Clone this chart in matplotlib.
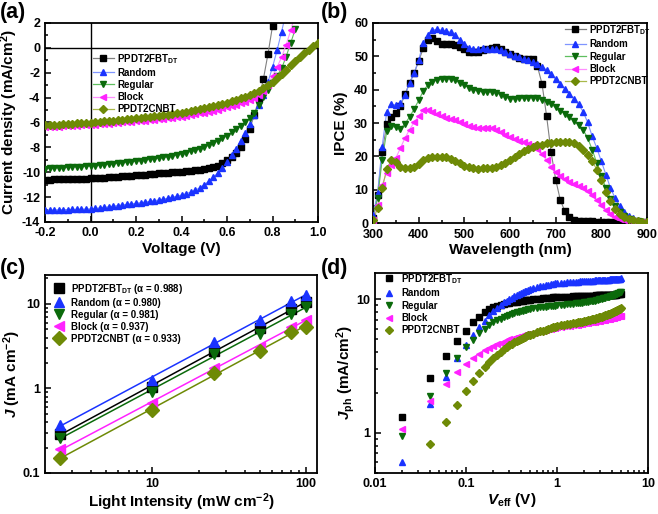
import numpy as np
import matplotlib
matplotlib.use('Agg')
import matplotlib.pyplot as plt
from matplotlib.ticker import MultipleLocator, LogLocator, NullFormatter, FixedLocator, FixedFormatter

plt.rcParams['font.family'] = ['Liberation Sans', 'DejaVu Sans']
plt.rcParams['font.weight'] = 'bold'
plt.rcParams['axes.labelweight'] = 'bold'
plt.rcParams['mathtext.fontset'] = 'custom'
plt.rcParams['mathtext.rm'] = 'Liberation Sans:bold'
plt.rcParams['mathtext.bf'] = 'Liberation Sans:bold'
plt.rcParams['mathtext.it'] = 'Liberation Sans:bold:italic'
plt.rcParams['axes.linewidth'] = 1.3

# ── SERIES NAMES / STYLES ───────────────────────────────────────────────────
names = ['PPDT2FBT$_{\\mathregular{DT}}$', 'Random', 'Regular', 'Block', 'PPDT2CNBT']
colors = ['#000000', '#1a33ff', '#0b6a0b', '#ff22ff', '#6e8a06']
line_colors = ['#808080', '#7f95ff', '#5fbf5f', '#ff8fff', '#a9b94a']
markers = ['s', '^', 'v', '<', 'D']

# ── (a) J-V DATA ────────────────────────────────────────────────────────────
v_step = np.round(np.arange(-0.2, 1.0001, 0.02), 2)

jv_fbt = [-10.60, -10.59, -10.58, -10.57, -10.56, -10.55, -10.54, -10.53, -10.52, -10.51,
          -10.50, -10.48, -10.46, -10.44, -10.42, -10.40, -10.37, -10.34, -10.31, -10.28,
          -10.25, -10.22, -10.19, -10.16, -10.13, -10.10, -10.07, -10.04, -10.01, -9.98,
          -9.95, -9.92, -9.89, -9.85, -9.80, -9.74, -9.67, -9.58, -9.46, -9.28,
          -9.05, -8.80, -8.45, -8.00, -7.35, -6.50, -5.40, -4.10, -2.50, -0.50,
          1.75]
jv_random = [-13.05, -13.04, -13.03, -13.02, -13.01, -13.00, -12.99, -12.98, -12.97, -12.96,
             -12.95, -12.91, -12.87, -12.83, -12.78, -12.73, -12.68, -12.63, -12.58, -12.54,
             -12.50, -12.45, -12.40, -12.35, -12.29, -12.23, -12.16, -12.09, -12.01, -11.92,
             -11.83, -11.72, -11.60, -11.45, -11.25, -11.00, -10.72, -10.40, -10.05, -9.62,
             -9.15, -8.65, -8.10, -7.50, -6.85, -6.15, -5.40, -4.60, -3.80, -2.75,
             -1.55, -0.20, 1.30, 2.90]
jv_regular = [-9.70, -9.68, -9.66, -9.64, -9.62, -9.60, -9.58, -9.56, -9.54, -9.52,
              -9.50, -9.47, -9.43, -9.39, -9.35, -9.31, -9.27, -9.23, -9.19, -9.15,
              -9.11, -9.06, -9.02, -8.97, -8.92, -8.87, -8.81, -8.75, -8.68, -8.60,
              -8.50, -8.42, -8.33, -8.23, -8.12, -7.98, -7.83, -7.66, -7.47, -7.27,
              -7.05, -6.80, -6.55, -6.28, -5.98, -5.65, -5.20, -4.60, -3.95, -3.35,
              -2.80, -2.25, -1.65, -0.70, 0.40, 1.50]
jv_block = [-6.40, -6.38, -6.36, -6.34, -6.32, -6.30, -6.28, -6.26, -6.24, -6.22,
            -6.20, -6.17, -6.14, -6.11, -6.09, -6.06, -6.03, -6.00, -5.97, -5.94,
            -5.91, -5.88, -5.85, -5.81, -5.78, -5.74, -5.70, -5.66, -5.62, -5.58,
            -5.53, -5.47, -5.41, -5.34, -5.27, -5.20, -5.12, -5.04, -4.96, -4.87,
            -4.78, -4.68, -4.57, -4.45, -4.32, -4.18, -4.00, -3.78, -3.45, -2.95,
            -2.25, -1.55, -0.75, 0.25, 1.40, 2.70]
jv_cnbt = [-6.23, -6.21, -6.19, -6.17, -6.15, -6.12, -6.10, -6.08, -6.05, -6.03,
           -6.01, -5.98, -5.95, -5.92, -5.88, -5.85, -5.82, -5.78, -5.74, -5.70,
           -5.66, -5.62, -5.58, -5.54, -5.50, -5.46, -5.41, -5.36, -5.31, -5.26,
           -5.20, -5.14, -5.08, -5.01, -4.94, -4.86, -4.78, -4.70, -4.61, -4.51,
           -4.40, -4.29, -4.17, -4.04, -3.92, -3.78, -3.62, -3.45, -3.24, -3.00,
           -2.72, -2.42, -2.10, -1.75, -1.40, -1.03, -0.72, -0.42, -0.15, 0.12,
           0.37]

# ── (b) IPCE DATA (300-900 nm, 10 nm) ──────────────────────────────────────
wl = np.arange(300, 901, 10)

ipce_fbt = [1.5, 8.4, 21.2, 29.6, 31.9, 33.1, 35.1, 38.6, 42.1, 44.9,
            48.6, 52.4, 54.9, 55.4, 54.6, 53.7, 53.6, 53.7, 53.4, 52.9,
            52.1, 51.4, 51.2, 51.4, 51.9, 52.3, 52.6, 52.7, 52.2, 51.4,
            50.6, 50.0, 49.5, 49.2, 49.3, 49.2, 47.0, 41.8, 32.2, 21.2,
            13.0, 7.0, 3.5, 1.8, 1.0, 0.7, 0.6, 0.5, 0.5, 0.4,
            0.4, 0.3, 0.3, 0.2, 0.2, 0.2, 0.1, 0.1, 0.1, 0.1,
            0.1]
ipce_random = [2.5, 8.9, 22.9, 33.4, 35.6, 35.4, 35.9, 38.4, 41.9, 44.9,
               48.9, 54.1, 56.4, 57.9, 58.1, 57.8, 57.6, 57.2, 56.4, 54.9,
               53.6, 52.6, 52.1, 52.1, 52.4, 52.2, 52.3, 52.3, 51.8, 51.2,
               50.6, 50.2, 49.8, 49.3, 49.0, 48.3, 47.8, 46.9, 45.9, 44.6,
               43.1, 41.7, 40.2, 38.7, 37.2, 35.6, 33.4, 30.2, 26.0, 22.5,
               18.5, 14.5, 10.5, 7.5, 5.2, 3.4, 2.2, 1.4, 0.9, 0.6,
               0.4]
ipce_regular = [1.0, 7.6, 18.9, 27.5, 29.0, 28.7, 28.3, 29.8, 31.8, 34.2,
                36.8, 39.6, 41.4, 42.4, 42.9, 43.2, 43.3, 43.2, 42.8, 42.0,
                41.3, 40.6, 40.0, 39.6, 39.4, 39.3, 39.3, 39.1, 38.5, 37.7,
                37.3, 37.3, 37.4, 37.5, 37.6, 37.6, 37.5, 36.9, 36.3, 35.6,
                34.7, 33.7, 32.8, 31.7, 30.5, 29.5, 28.0, 25.5, 22.0, 18.0,
                14.0, 10.5, 7.3, 5.0, 3.2, 2.0, 1.2, 0.7, 0.5, 0.3,
                0.2]
ipce_block = [1.0, 5.5, 11.5, 15.0, 17.5, 19.5, 22.5, 25.5, 28.0, 30.2,
              32.0, 34.0, 34.0, 33.3, 32.6, 32.0, 31.6, 31.2, 30.8, 30.2,
              29.6, 29.1, 28.8, 28.6, 28.6, 28.5, 28.4, 28.0, 27.3, 26.5,
              25.8, 25.2, 24.7, 24.2, 23.6, 23.5, 22.3, 20.8, 18.8, 16.8,
              15.3, 14.0, 13.1, 12.4, 11.8, 11.1, 10.4, 9.5, 8.3, 6.9,
              5.4, 4.0, 2.8, 1.9, 1.3, 1.0, 0.8, 0.6, 0.4, 0.3,
              0.2]
ipce_cnbt = [0.8, 4.4, 10.4, 16.2, 18.9, 18.4, 16.9, 16.4, 16.6, 16.9,
             17.7, 18.9, 19.4, 19.7, 19.9, 19.9, 19.7, 19.2, 18.6, 17.9,
             17.2, 16.7, 16.4, 16.3, 16.4, 16.5, 16.6, 16.8, 17.3, 18.0,
             18.9, 19.9, 20.8, 21.6, 22.3, 22.9, 23.3, 23.5, 23.9, 24.1,
             24.2, 24.2, 24.2, 24.2, 23.9, 23.2, 21.9, 20.5, 18.6, 16.0,
             12.8, 9.3, 6.5, 4.3, 2.7, 1.8, 1.2, 0.8, 0.5, 0.3,
             0.2]

# ── (c) LIGHT INTENSITY DATA ────────────────────────────────────────────────
intensity = [2.5, 10, 25, 50, 80, 100]
jsc_fbt = [0.29, 1.03, 2.80, 5.20, 8.70, 10.6]
jsc_random = [0.37, 1.27, 3.50, 6.40, 10.7, 12.8]
jsc_regular = [0.26, 0.92, 2.55, 4.40, 7.60, 9.10]
jsc_block = [0.19, 0.67, 1.74, 3.10, 5.40, 6.50]
jsc_cnbt = [0.15, 0.55, 1.52, 2.74, 4.70, 5.30]
alphas = ['0.988', '0.980', '0.981', '0.937', '0.933']

# ── (d) PHOTOCURRENT DATA ───────────────────────────────────────────────────
veff = ([0.02, 0.04, 0.06, 0.08, 0.10, 0.12, 0.14, 0.16, 0.18, 0.20,
         0.22, 0.24, 0.26, 0.28, 0.30, 0.32, 0.34, 0.36, 0.38, 0.40,
         0.42, 0.44, 0.46, 0.48, 0.50]
        + [0.55, 0.60, 0.65, 0.70, 0.75, 0.80, 0.85, 0.90, 0.95, 1.00]
        + list(np.round(np.arange(1.1, 5.01, 0.1), 1)))

jph_fbt = [1.31, 2.57, 3.78, 4.89, 5.80, 6.70, 7.40, 7.95, 8.40, 8.75,
           8.95, 9.10, 9.22, 9.32, 9.40, 9.47, 9.54, 9.60, 9.66, 9.71,
           9.76, 9.80, 9.84, 9.88, 9.91,
           9.98, 10.05, 10.11, 10.16, 10.20, 10.24, 10.27, 10.30, 10.33, 10.35,
           10.38, 10.41, 10.43, 10.45, 10.47, 10.49, 10.51, 10.53, 10.55, 10.57,
           10.59, 10.61, 10.62, 10.63, 10.64, 10.65, 10.66, 10.67, 10.68, 10.69,
           10.70, 10.71, 10.72, 10.73, 10.74, 10.75, 10.76, 10.77, 10.78, 10.79,
           10.80, 10.81, 10.82, 10.83, 10.84, 10.85, 10.86, 10.87, 10.88, 10.90]
jph_random = [0.60, 1.63, 2.62, 3.60, 4.50, 5.35, 6.15, 6.85, 7.55, 8.15,
              8.65, 9.10, 9.45, 9.75, 10.00, 10.25, 10.50, 10.72, 10.92, 11.10,
              11.27, 11.43, 11.58, 11.72, 11.85,
              12.10, 12.30, 12.48, 12.62, 12.75, 12.86, 12.96, 13.05, 13.12, 13.18,
              13.25, 13.30, 13.35, 13.40, 13.44, 13.48, 13.52, 13.56, 13.59, 13.62,
              13.65, 13.68, 13.71, 13.74, 13.77, 13.80, 13.82, 13.84, 13.86, 13.88,
              13.90, 13.92, 13.94, 13.96, 13.98, 14.00, 14.02, 14.04, 14.06, 14.08,
              14.10, 14.12, 14.14, 14.16, 14.18, 14.20, 14.22, 14.24, 14.26, 14.28]
jph_regular = [0.94, 1.90, 2.80, 3.60, 4.36, 4.97, 5.57, 6.00, 6.36, 6.70,
               6.95, 7.15, 7.32, 7.48, 7.62, 7.74, 7.85, 7.95, 8.04, 8.12,
               8.19, 8.26, 8.32, 8.38, 8.43,
               8.52, 8.60, 8.67, 8.73, 8.79, 8.84, 8.88, 8.92, 8.96, 9.00,
               9.06, 9.12, 9.17, 9.22, 9.27, 9.31, 9.35, 9.39, 9.43, 9.47,
               9.52, 9.57, 9.62, 9.67, 9.72, 9.77, 9.83, 9.89, 9.95, 10.01,
               10.07, 10.13, 10.19, 10.25, 10.31, 10.37, 10.43, 10.49, 10.55, 10.61,
               10.67, 10.73, 10.80, 10.87, 10.94, 11.01, 11.08, 11.15, 11.22, 11.30]
jph_block = [1.06, 1.72, 2.30, 2.84, 3.27, 3.63, 3.91, 4.14, 4.32, 4.48,
             4.61, 4.72, 4.82, 4.91, 5.00, 5.07, 5.14, 5.20, 5.25, 5.30,
             5.35, 5.40, 5.44, 5.48, 5.52,
             5.60, 5.68, 5.75, 5.82, 5.88, 5.94, 6.00, 6.05, 6.10, 6.15,
             6.20, 6.25, 6.30, 6.34, 6.38, 6.42, 6.46, 6.50, 6.54, 6.58,
             6.62, 6.66, 6.70, 6.73, 6.76, 6.79, 6.82, 6.85, 6.88, 6.91,
             6.94, 6.97, 7.00, 7.03, 7.06, 7.09, 7.12, 7.15, 7.18, 7.21,
             7.24, 7.27, 7.30, 7.33, 7.36, 7.39, 7.42, 7.45, 7.48, 7.50]
jph_cnbt = [0.40, 0.82, 1.20, 1.61, 2.05, 2.42, 2.79, 3.09, 3.39, 3.63,
            3.85, 4.05, 4.22, 4.38, 4.52, 4.65, 4.77, 4.88, 4.98, 5.07,
            5.15, 5.22, 5.29, 5.35, 5.40,
            5.52, 5.63, 5.73, 5.82, 5.91, 6.00, 6.08, 6.16, 6.23, 6.30,
            6.37, 6.43, 6.49, 6.55, 6.60, 6.65, 6.70, 6.75, 6.80, 6.85,
            6.90, 6.95, 7.00, 7.05, 7.10, 7.15, 7.20, 7.25, 7.30, 7.35,
            7.40, 7.45, 7.50, 7.56, 7.62, 7.68, 7.74, 7.80, 7.86, 7.92,
            7.98, 8.04, 8.10, 8.16, 8.22, 8.28, 8.34, 8.40, 8.48, 8.56]

jv_all = [jv_fbt, jv_random, jv_regular, jv_block, jv_cnbt]
ipce_all = [ipce_fbt, ipce_random, ipce_regular, ipce_block, ipce_cnbt]
jsc_all = [jsc_fbt, jsc_random, jsc_regular, jsc_block, jsc_cnbt]
jph_all = [jph_fbt, jph_random, jph_regular, jph_block, jph_cnbt]

# ── FIGURE ──────────────────────────────────────────────────────────────────
fig = plt.figure(figsize=(6.58, 5.14), dpi=100)
ax_a = fig.add_axes([0.0684, 0.5681, 0.4149, 0.3872])
ax_b = fig.add_axes([0.5669, 0.5661, 0.4164, 0.3892])
ax_c = fig.add_axes([0.0684, 0.0798, 0.4134, 0.3852])
ax_d = fig.add_axes([0.5699, 0.0798, 0.4149, 0.3891])

tick_fs = 9
label_fs = 11
leg_fs = 7

for ax in (ax_a, ax_b, ax_c, ax_d):
    ax.tick_params(which='both', direction='in', labelsize=tick_fs, width=1.1)
    ax.tick_params(which='major', length=4)
    ax.tick_params(which='minor', length=2)

# (a)
for j, c, lc, m, n in zip(jv_all, colors, line_colors, markers, names):
    ax_a.plot(v_step[:len(j)], j, color=lc, lw=0.8, zorder=2)
    ax_a.plot(v_step[:len(j)], j, ls='none', marker=m, ms=4.4, color=c,
              mec=c, zorder=3)
    ax_a.plot([], [], color=lc, lw=0.9, marker=m, ms=4.2, mfc=c, mec=c, label=n)
ax_a.axhline(0, color='k', lw=1.0, zorder=1)
ax_a.axvline(0, color='k', lw=1.0, zorder=1)
ax_a.set_xlim(-0.2, 1.0)
ax_a.set_ylim(-14, 2)
ax_a.xaxis.set_minor_locator(MultipleLocator(0.1))
ax_a.yaxis.set_minor_locator(MultipleLocator(1))
ax_a.set_xticks(np.round(np.arange(-0.2, 1.01, 0.2), 1))
ax_a.set_xticklabels(['-0.2', '0.0', '0.2', '0.4', '0.6', '0.8', '1.0'], fontweight='bold')
ax_a.set_yticks(np.arange(-14, 3, 2))
ax_a.set_yticklabels([str(t) for t in range(-14, 3, 2)], fontweight='bold')
ax_a.set_xlabel('Voltage (V)', fontsize=label_fs, fontweight='bold', labelpad=2)
ax_a.set_ylabel('Current density (mA/cm$^2$)', fontsize=label_fs, fontweight='bold')
ax_a.yaxis.set_label_coords(-0.09, 0.5)
ax_a.legend(loc='upper left', bbox_to_anchor=(0.16, 0.875), frameon=False,
            fontsize=leg_fs, handlelength=2.2, handletextpad=0.3, labelspacing=0.22,
            borderaxespad=0)

# (b)
for y, c, lc, m, n in zip(ipce_all, colors, line_colors, markers, names):
    ax_b.plot(wl, y, color=lc, lw=0.8, zorder=2)
    ax_b.plot(wl, y, ls='none', marker=m, ms=4.4, color=c, mec=c, zorder=3)
    ax_b.plot([], [], color=lc, lw=0.9, marker=m, ms=4.2, mfc=c, mec=c, label=n)
ax_b.set_xlim(300, 900)
ax_b.set_ylim(0, 60)
ax_b.xaxis.set_minor_locator(MultipleLocator(50))
ax_b.yaxis.set_minor_locator(MultipleLocator(5))
ax_b.set_xticks(np.arange(300, 901, 100))
ax_b.set_xticklabels([str(t) for t in range(300, 901, 100)], fontweight='bold')
ax_b.set_yticks(np.arange(0, 61, 10))
ax_b.set_yticklabels([str(t) for t in range(0, 61, 10)], fontweight='bold')
ax_b.tick_params(axis='x', pad=4.5)
ax_b.set_xlabel('Wavelength (nm)', fontsize=label_fs, fontweight='bold', labelpad=1)
ax_b.set_ylabel('IPCE (%)', fontsize=label_fs, fontweight='bold')
ax_b.yaxis.set_label_coords(-0.09, 0.5)
ax_b.legend(loc='upper left', bbox_to_anchor=(0.685, 1.02), frameon=False,
            fontsize=leg_fs, handlelength=2.2, handletextpad=0.3, labelspacing=0.25,
            borderaxespad=0)

# (c)
x_fit = np.array([intensity[0], intensity[-1]])
for y, c, m, n, a in zip(jsc_all, colors, markers, names, alphas):
    k, b0 = np.polyfit(np.log10(intensity), np.log10(y), 1)
    ax_c.plot(x_fit, 10 ** (b0 + k * np.log10(x_fit)), color=c, lw=1.1, zorder=2)
    ax_c.plot(intensity, y, ls='none', marker=m, ms=7, color=c, mec=c, zorder=3,
              label=n + ' (α = ' + a + ')')
ax_c.set_xscale('log')
ax_c.set_yscale('log')
ax_c.set_xlim(2, 118)
ax_c.set_ylim(0.1, 22)
ax_c.xaxis.set_major_locator(FixedLocator([10, 100]))
ax_c.xaxis.set_major_formatter(FixedFormatter(['10', '100']))
ax_c.xaxis.set_minor_locator(LogLocator(base=10, subs=np.arange(2, 10)))
ax_c.xaxis.set_minor_formatter(NullFormatter())
ax_c.yaxis.set_major_locator(FixedLocator([0.1, 1, 10]))
ax_c.yaxis.set_major_formatter(FixedFormatter(['0.1', '1', '10']))
ax_c.yaxis.set_minor_locator(LogLocator(base=10, subs=np.arange(2, 10)))
ax_c.yaxis.set_minor_formatter(NullFormatter())
ax_c.set_xlabel('Light Intensity (mW cm$^{-2}$)', fontsize=label_fs, fontweight='bold', labelpad=1)
ax_c.set_ylabel('$J$ (mA cm$^{-2}$)', fontsize=label_fs, fontweight='bold')
ax_c.yaxis.set_label_coords(-0.08, 0.5)
ax_c.legend(loc='upper left', bbox_to_anchor=(0.015, 0.985), frameon=False,
            fontsize=leg_fs, handlelength=1.2, handletextpad=0.7, labelspacing=0.2,
            borderaxespad=0)

# (d)
for y, c, m, n in zip(jph_all, colors, markers, names):
    ax_d.plot(veff, y, ls='none', marker=m, ms=4.4, color=c, mec=c, label=n)
ax_d.set_xscale('log')
ax_d.set_yscale('log')
ax_d.set_xlim(0.01, 10)
ax_d.set_ylim(0.5, 15.7)
ax_d.xaxis.set_major_locator(FixedLocator([0.01, 0.1, 1, 10]))
ax_d.xaxis.set_major_formatter(FixedFormatter(['0.01', '0.1', '1', '10']))
ax_d.xaxis.set_minor_locator(LogLocator(base=10, subs=np.arange(2, 10)))
ax_d.xaxis.set_minor_formatter(NullFormatter())
ax_d.yaxis.set_major_locator(FixedLocator([1, 10]))
ax_d.yaxis.set_major_formatter(FixedFormatter(['1', '10']))
ax_d.yaxis.set_minor_locator(LogLocator(base=10, subs=np.arange(2, 10)))
ax_d.yaxis.set_minor_formatter(NullFormatter())
ax_d.set_xlabel('$V_{\\mathregular{eff}}$ (V)', fontsize=label_fs, fontweight='bold', labelpad=1)
ax_d.set_ylabel('$J_{\\mathregular{ph}}$ (mA/cm$^2$)', fontsize=label_fs, fontweight='bold')
ax_d.yaxis.set_label_coords(-0.066, 0.5)
ax_d.legend(loc='upper left', bbox_to_anchor=(0.015, 1.025), frameon=False,
            fontsize=leg_fs, handlelength=1.2, handletextpad=0.7, labelspacing=0.25,
            borderaxespad=0)

for ax in (ax_a, ax_b, ax_c, ax_d):
    for lbl in ax.get_xticklabels() + ax.get_yticklabels():
        lbl.set_fontweight('bold')

# panel labels
fig.text(0.0, 0.976, '(a)', fontsize=15.5, fontweight='bold', va='center')
fig.text(0.487, 0.976, '(b)', fontsize=15.5, fontweight='bold', va='center')
fig.text(0.0, 0.478, '(c)', fontsize=15.5, fontweight='bold', va='center')
fig.text(0.487, 0.478, '(d)', fontsize=15.5, fontweight='bold', va='center')

fig.savefig('out.png', dpi=100)
